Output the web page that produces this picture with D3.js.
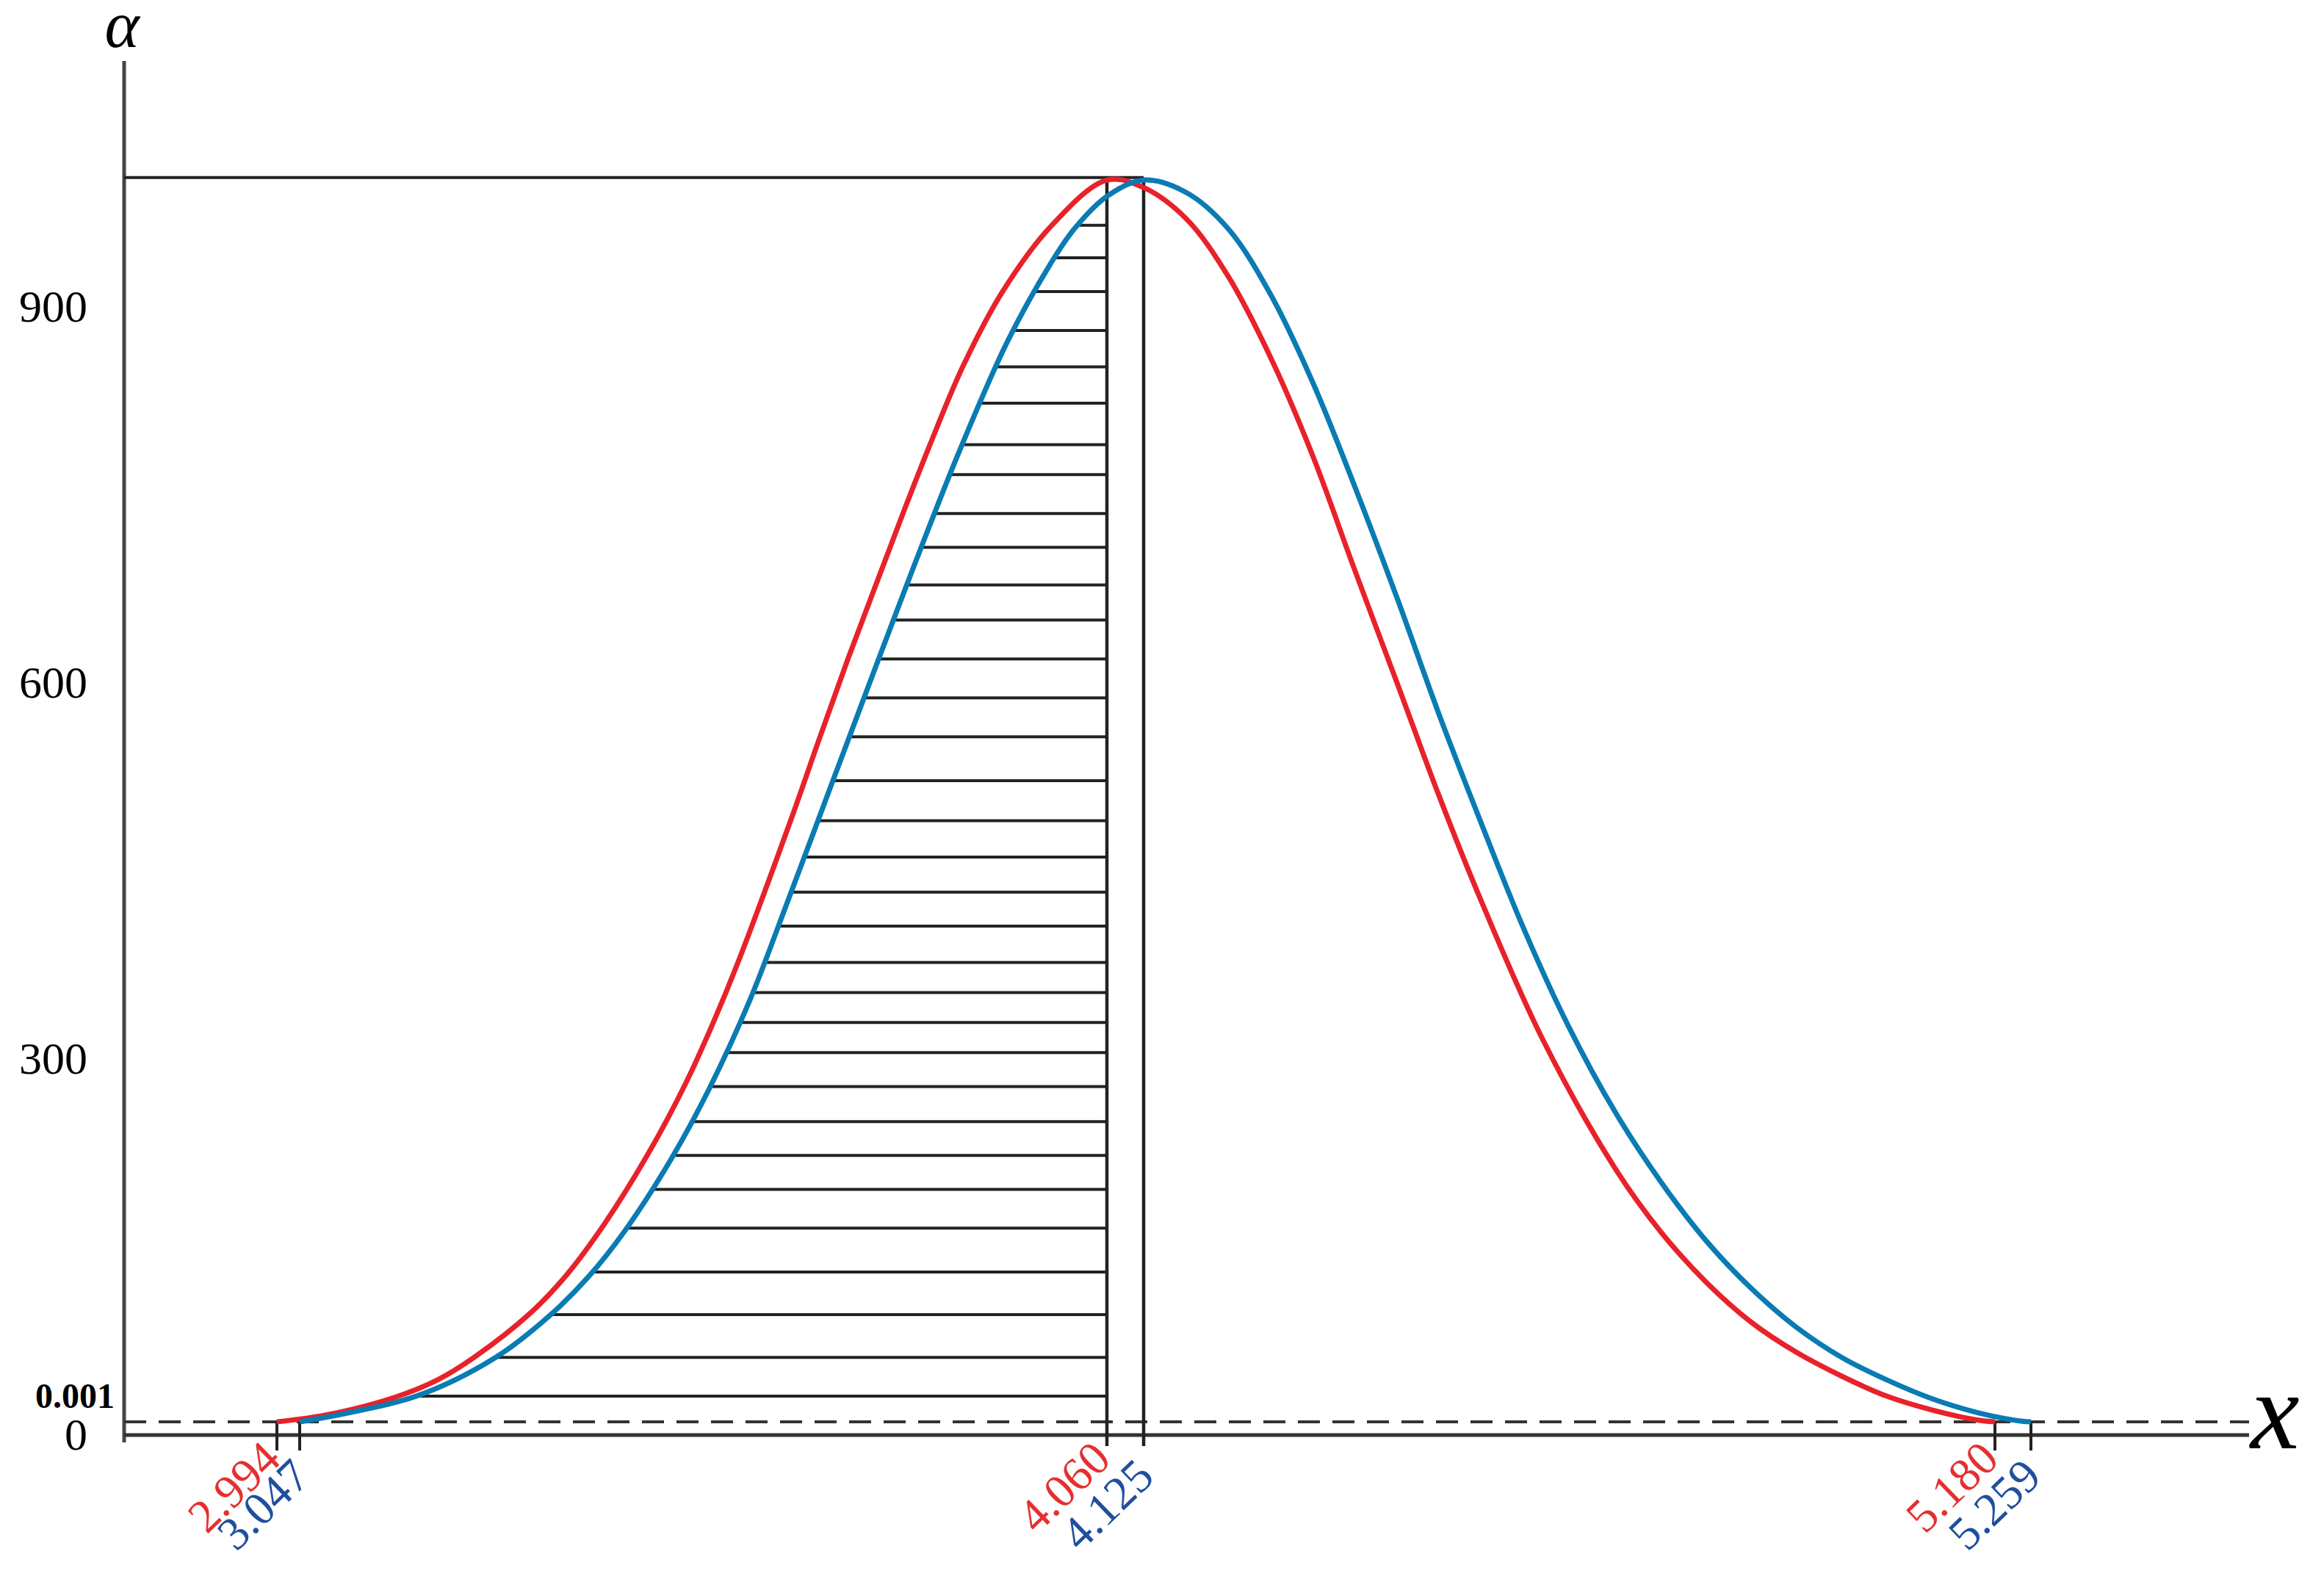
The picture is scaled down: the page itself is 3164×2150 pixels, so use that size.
<!DOCTYPE html>
<html>
<head>
<meta charset="utf-8">
<script src="https://cdn.jsdelivr.net/npm/d3@7/dist/d3.min.js"></script>
<style>
  html, body { margin: 0; padding: 0; background: #fff; }
  svg { display: block; }
  text { font-family: "Liberation Serif", "Times New Roman", serif; }
</style>
</head>
<body>
<div id="chart"></div>
<script>
// marked abscissas: start, peak and end of each curve
var redMarks = [2.994, 4.060, 5.180];
var blueMarks = [3.047, 4.125, 5.259];
var yTicks = [0, 300, 600, 900];
var thresholdLabel = '0.001';
var thresholdLevel = 10.5;   // where the 0.001 line sits on the drawing
var peakLevel = 1003;

// red curve
var redX = [2.994, 3.080, 3.166, 3.220, 3.266, 3.336, 3.381, 3.429, 3.484, 3.531, 3.566, 3.597,
    3.663, 3.700, 3.735, 3.770, 3.804, 3.838, 3.879, 3.929, 3.991, 4.060,
    4.125, 4.178, 4.229, 4.282, 4.334, 4.386, 4.439, 4.491, 4.544, 4.620,
    4.710, 4.766, 4.822, 4.878, 4.934, 4.990, 5.046, 5.102, 5.158, 5.180];
var redA = [10.5, 16, 30, 44, 62, 97, 127, 168, 224, 280, 329, 377,
    490, 557, 619, 678, 735, 790, 852, 912, 965, 1001,
    995, 970, 925, 860, 782, 691, 600, 510, 425, 315,
    212, 162, 122, 90, 66, 47, 31, 20, 12, 10.5];

// blue curve
var blueX = [3.047, 3.193, 3.293, 3.362, 3.409, 3.454, 3.513, 3.560, 3.612, 3.659,
    3.715, 3.770, 3.819, 3.875, 3.935, 3.989, 4.019, 4.060, 4.125, 4.178,
    4.230, 4.283, 4.335, 4.387, 4.440, 4.491, 4.544, 4.596, 4.650, 4.710,
    4.766, 4.822, 4.878, 4.934, 4.990, 5.046, 5.102, 5.158, 5.240, 5.259];
var blueA = [10.5, 31, 62, 96, 126, 162, 220, 275, 347, 425,
    520, 613, 695, 785, 872, 934, 962, 988, 1001, 991,
    962, 909, 839, 756, 666, 575, 487, 404, 328, 257,
    202, 155, 117, 86, 62, 44, 29, 18, 11, 10.5];

// levels of the horizontal hatching under the blue curve
var hatchLevels = [965, 939, 912, 881, 852, 823, 790, 766, 735, 708, 678, 650, 619,
    588, 557, 522, 490, 461, 433, 406, 377, 353, 329, 305, 278, 250, 223,
    196, 165, 130, 96, 62, 31];

var width = 3164, height = 2150;
var axisX = 169, axisEnd = 3062;
var redColor = '#e8222a', blueColor = '#0a7bb3';
var redText = '#e53030', blueText = '#1f4f9f', ink = '#222';

var marks = redMarks.concat(blueMarks).sort(d3.ascending);
// the drawing is schematic: each marked value has its own place on the axis
var x = d3.scaleLinear()
    .domain(marks)
    .range([377, 408, 1507, 1557, 2716, 2765]);
var y = d3.scaleLinear()
    .domain([0, 1096])
    .range([1954, 83]);

var svg = d3.select('#chart').append('svg')
    .attr('width', width)
    .attr('height', height);

// y axis (its line runs a little past the x axis)
var yAxis = d3.axisLeft(y).tickValues(yTicks).tickSize(0).tickSizeOuter(0).tickPadding(50);
var ya = svg.append('g')
    .attr('transform', 'translate(' + axisX + ',0)')
    .call(yAxis);
ya.select('.domain').remove();
ya.selectAll('text')
    .attr('fill', '#000')
    .style('font-size', '62px')
    .style('font-family', '"Liberation Serif", serif');
svg.append('line')
    .attr('x1', axisX).attr('x2', axisX)
    .attr('y1', y.range()[1]).attr('y2', y(0) + 10)
    .attr('stroke', '#444').attr('stroke-width', 5);

svg.append('text')
    .attr('x', 156)
    .attr('y', y(thresholdLevel) - 36)
    .attr('dy', '0.35em')
    .attr('text-anchor', 'end')
    .style('font-size', '48px')
    .style('font-weight', 'bold')
    .text(thresholdLabel);

// x axis and the 0.001 dashed line
svg.append('line')
    .attr('x1', axisX).attr('x2', axisEnd)
    .attr('y1', y(0)).attr('y2', y(0))
    .attr('stroke', '#333').attr('stroke-width', 5);
svg.append('line')
    .attr('x1', axisX).attr('x2', axisEnd)
    .attr('y1', y(thresholdLevel)).attr('y2', y(thresholdLevel))
    .attr('stroke', '#333').attr('stroke-width', 4)
    .attr('stroke-dasharray', '30,17');

// top line at the peak and the two peak verticals
svg.append('line')
    .attr('x1', axisX).attr('x2', x(blueMarks[1]))
    .attr('y1', y(peakLevel)).attr('y2', y(peakLevel))
    .attr('stroke', ink).attr('stroke-width', 4);
[redMarks[1], blueMarks[1]].forEach(function (v) {
    svg.append('line')
        .attr('x1', x(v)).attr('x2', x(v))
        .attr('y1', y(peakLevel)).attr('y2', y(0) + 15)
        .attr('stroke', ink).attr('stroke-width', 4.5);
});
// short ticks at the curve ends
[redMarks[0], blueMarks[0], redMarks[2], blueMarks[2]].forEach(function (v) {
    svg.append('line')
        .attr('x1', x(v)).attr('x2', x(v))
        .attr('y1', y(thresholdLevel)).attr('y2', y(0) + 21)
        .attr('stroke', ink).attr('stroke-width', 4);
});

var line = d3.line()
    .curve(d3.curveCatmullRom.alpha(0.5))
    .x(function (d) { return x(d[0]); })
    .y(function (d) { return y(d[1]); });

var redData = redX.map(function (v, i) { return [v, redA[i]]; });
var blueData = blueX.map(function (v, i) { return [v, blueA[i]]; });

var hatch = svg.append('g');
var redPath = svg.append('path')
    .datum(redData)
    .attr('d', line)
    .attr('fill', 'none')
    .attr('stroke', redColor)
    .attr('stroke-width', 7);
var bluePath = svg.append('path')
    .datum(blueData)
    .attr('d', line)
    .attr('fill', 'none')
    .attr('stroke', blueColor)
    .attr('stroke-width', 7);

// hatching runs from the rising side of the blue curve to the red peak line
var node = bluePath.node(), total = node.getTotalLength(), pts = [];
for (var s = 0; s <= total; s += 1) pts.push(node.getPointAtLength(s));
hatchLevels.forEach(function (a) {
    var yy = y(a), left = null;
    for (var i = 1; i < pts.length; i++) {
        if (pts[i].y <= yy) {
            var p0 = pts[i - 1], p1 = pts[i];
            var t = (p0.y - yy) / ((p0.y - p1.y) || 1);
            left = p0.x + t * (p1.x - p0.x);
            break;
        }
    }
    if (left === null) return;
    hatch.append('line')
        .attr('x1', left).attr('x2', x(redMarks[1]))
        .attr('y1', yy).attr('y2', yy)
        .attr('stroke', ink).attr('stroke-width', 4);
});

// rotated value labels under the axis
function markLabel(v, color, dx, dy) {
    var px = x(v) + dx, py = y(0) + dy;
    svg.append('text')
        .attr('transform', 'translate(' + px + ',' + py + ') rotate(-44)')
        .attr('text-anchor', 'end')
        .attr('fill', color)
        .style('font-size', '64px')
        .text(v.toFixed(3));
}
redMarks.forEach(function (v) { markLabel(v, redText, 8, 36); });
blueMarks.forEach(function (v) { markLabel(v, blueText, 17, 60); });

// axis names
svg.append('text')
    .attr('x', 166).attr('y', 64)
    .attr('text-anchor', 'middle')
    .style('font-size', '90px')
    .style('font-style', 'italic')
    .text('α');
svg.append('text')
    .attr('x', 3064).attr('y', 1972)
    .style('font-size', '150px')
    .style('font-style', 'italic')
    .text('x');
</script>
</body>
</html>
